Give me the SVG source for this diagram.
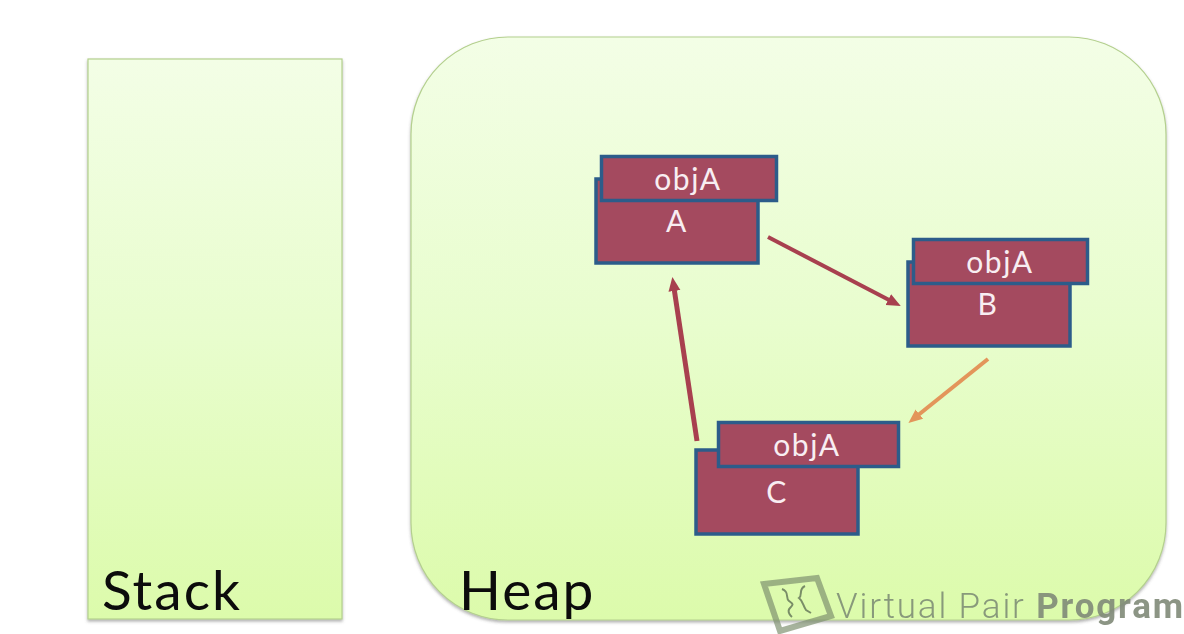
<svg xmlns="http://www.w3.org/2000/svg" width="1184" height="634" viewBox="0 0 1184 634">
<style>
.panel{fill:url(#g);stroke:#b4d08e;stroke-width:1.2;filter:url(#sh)}
.box{fill:#a44a5f;stroke:#2c5c8a;stroke-width:3.500}
.t{font-family:"Lato","Open Sans",sans-serif;font-size:30px;letter-spacing:1.500px;fill:#f8eef2;text-anchor:middle}
.big{font-family:"Lato","Open Sans",sans-serif;font-size:55px;letter-spacing:2px;fill:#0c0c0c}
.wm{font-family:"Roboto","Open Sans",sans-serif;font-size:35px;letter-spacing:1.850px;font-weight:300;fill:#7f8f76}
.wb{font-weight:700;fill:#808a78}
.c{fill:none;stroke-width:4}
.r{stroke:#a8404f}
.o{stroke:#e3955a}
</style>
<defs>
<linearGradient id="g" x1="0" y1="0" x2="0" y2="1"><stop offset="0" stop-color="#f3fee6"/><stop offset="0.5" stop-color="#e8fdcd"/><stop offset="1" stop-color="#dcfbab"/></linearGradient>
<filter id="sh" x="-5%" y="-5%" width="110%" height="110%"><feDropShadow dx="0" dy="2" stdDeviation="1.500" flood-color="#555" flood-opacity="0.45"/></filter>
<marker id="red" markerUnits="userSpaceOnUse" markerWidth="14" markerHeight="14" refX="3" refY="7" orient="auto"><path d="M0 1L14 7L0 13Z" fill="#a8404f"/></marker>
<marker id="or" markerUnits="userSpaceOnUse" markerWidth="14" markerHeight="14" refX="3" refY="7" orient="auto"><path d="M0 1L14 7L0 13Z" fill="#e3955a"/></marker>
</defs>
<rect width="1184" height="634" fill="#fff"/>
<g id="stack"><rect class="panel" x="88" y="59" width="254" height="560"/><text class="big" x="102" y="610">Stack</text></g>
<g id="heap"><rect class="panel" x="411" y="37" width="755" height="583" rx="97"/><text class="big" x="459" y="610">Heap</text></g>
<g id="node-a"><rect class="box" x="596" y="179" width="162" height="84"/><text class="t" x="677" y="232">A</text><rect class="box" x="601.500" y="156.500" width="175" height="44"/><text class="t" x="688" y="190">objA</text></g>
<g id="node-b"><rect class="box" x="908" y="262" width="162" height="84"/><text class="t" x="988" y="315">B</text><rect class="box" x="913.500" y="239.500" width="174" height="44"/><text class="t" x="1000" y="273">objA</text></g>
<g id="node-c"><rect class="box" x="696" y="450" width="162" height="84"/><text class="t" x="777" y="503">C</text><rect class="box" x="718.500" y="422.500" width="180" height="44"/><text class="t" x="807" y="456">objA</text></g>
<g id="connectors">
<path class="c r" marker-end="url(#red)" d="M768 237L891 301"/>
<path class="c r" style="stroke-width:5" marker-end="url(#red)" d="M697 441L674 288"/>
<path class="c o" marker-end="url(#or)" d="M988 359L917 416"/>
</g>
<g id="watermark" opacity="0.9">
<path d="M764 584L817 578L831 616L780 631Z" fill="none" stroke="#7c8f6e" stroke-width="6" opacity="0.75"/>
<path d="M782 589c8 3 3 9 7 12s5 3 1 7 2 9 2 9M805 586c-7 3-2 9-6 12 4 3 4 8 7 12l5 3" fill="none" stroke="#6f8260" stroke-width="2"/>
<text class="wm" x="836" y="618">Virtual Pair <tspan class="wb">Program</tspan></text>
</g>
</svg>
